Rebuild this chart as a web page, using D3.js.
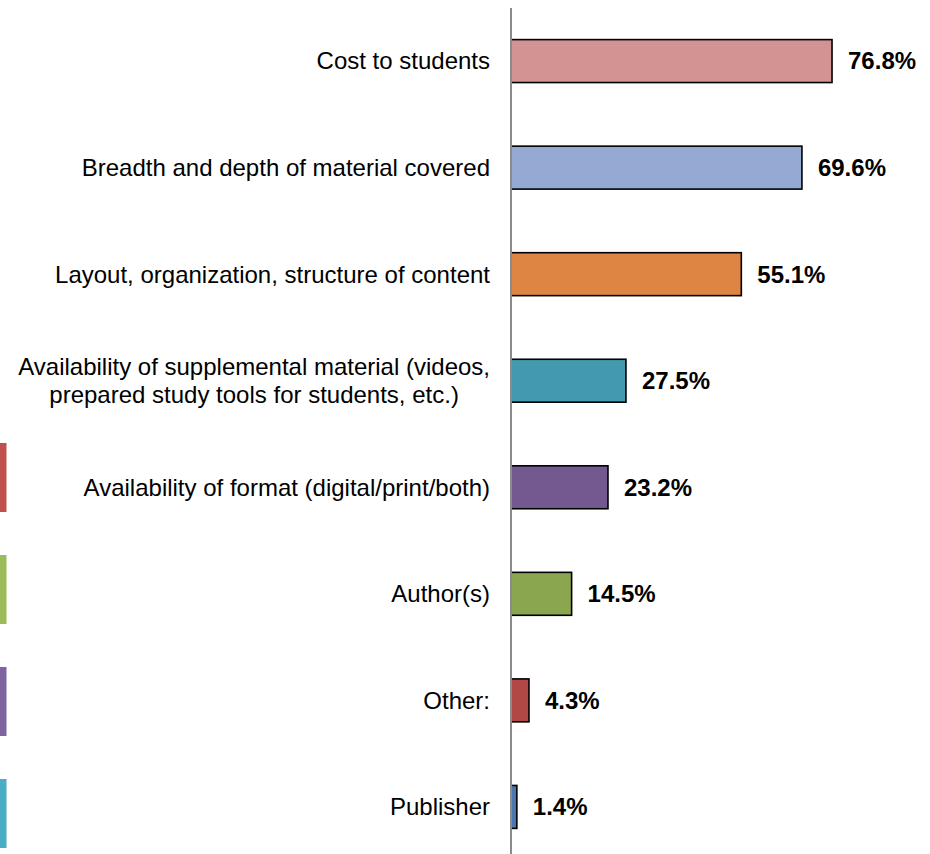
<!DOCTYPE html>
<html>
<head>
<meta charset="utf-8">
<script src="https://cdn.jsdelivr.net/npm/d3@7"></script>
<style>
  html, body { margin: 0; padding: 0; background: #fff; }
  svg { display: block; }
  text { font-family: "Liberation Sans", Arial, sans-serif; fill: #000; }
</style>
</head>
<body>
<svg id="chart" width="930" height="854"></svg>
<script>
// Factors considered when choosing course material (% of respondents)
const categories = [
  ["Cost to students"],
  ["Breadth and depth of material covered"],
  ["Layout, organization, structure of content"],
  ["Availability of supplemental material (videos,", "prepared study tools for students, etc.)"],
  ["Availability of format (digital/print/both)"],
  ["Author(s)"],
  ["Other:"],
  ["Publisher"]
];
const values = [76.8, 69.6, 55.1, 27.5, 23.2, 14.5, 4.3, 1.4];
const valueLabels = ["76.8%", "69.6%", "55.1%", "27.5%", "23.2%", "14.5%", "4.3%", "1.4%"];
const barColors = ["#D39392", "#95AAD3", "#DE8543", "#4399B0", "#73598F", "#8AA64E", "#B24845", "#4A77B0"];
// Edge swatches of a neighbouring legend, cut off at the left margin
const edgeSwatchColors = ["#C0504D", "#9BBB59", "#8064A2", "#4BACC6"];

const svg = d3.select("#chart");
const axisX = 511;
const labelFont = 24;
const valueFont = 24;

const x = d3.scaleLinear().domain([0, 100]).range([axisX, axisX + 418]);
const y = d3.scaleBand()
  .domain(d3.range(categories.length))
  .range([-24, 892])
  .paddingInner(0.597)
  .paddingOuter(0.597);

// Edge swatches
const ys = d3.scaleBand()
  .domain(d3.range(edgeSwatchColors.length))
  .range([443, 848])
  .paddingInner(0.384)
  .paddingOuter(0);
const sw = svg.append("g");
sw.selectAll("rect.main").data(edgeSwatchColors).join("rect")
  .attr("class", "main")
  .attr("x", 0).attr("width", 6)
  .attr("y", (d, i) => ys(i)).attr("height", ys.bandwidth())
  .attr("fill", d => d);
sw.selectAll("rect.edge").data(edgeSwatchColors).join("rect")
  .attr("class", "edge")
  .attr("x", 6).attr("width", 1)
  .attr("y", (d, i) => ys(i)).attr("height", ys.bandwidth())
  .attr("fill", d => d).attr("opacity", 0.5);

// Bars
svg.append("g").selectAll("rect").data(values).join("rect")
  .attr("x", x(0))
  .attr("y", (d, i) => y(i))
  .attr("width", d => x(d) - x(0))
  .attr("height", y.bandwidth())
  .attr("fill", (d, i) => barColors[i])
  .attr("stroke", "#000")
  .attr("stroke-width", 1.6);

// Vertical category axis line
svg.append("line")
  .attr("x1", axisX).attr("x2", axisX)
  .attr("y1", 8).attr("y2", 854)
  .attr("stroke", "#8a8a8a")
  .attr("stroke-width", 2);

// Value labels
svg.append("g").selectAll("text").data(values).join("text")
  .attr("x", d => x(d) + 16)
  .attr("y", (d, i) => y(i) + y.bandwidth() / 2)
  .attr("dy", "0.35em")
  .attr("font-size", valueFont)
  .attr("font-weight", "bold")
  .text((d, i) => valueLabels[i]);

// Category labels: single lines right-aligned, wrapped labels centred as a block
const labelRight = 490;
const lineGap = 28;
const lab = svg.append("g");
categories.forEach((lines, i) => {
  const cy = y(i) + y.bandwidth() / 2;
  const t = lab.append("text")
    .attr("font-size", labelFont)
    .attr("text-anchor", lines.length > 1 ? "middle" : "end");
  const tsp = t.selectAll("tspan").data(lines).join("tspan")
    .attr("x", labelRight)
    .attr("y", (d, k) => cy + (k - (lines.length - 1) / 2) * lineGap)
    .attr("dy", "0.35em")
    .text(d => d);
  if (lines.length > 1) {
    let maxW = 0;
    tsp.each(function () { maxW = Math.max(maxW, this.getComputedTextLength()); });
    tsp.attr("x", labelRight - maxW / 2);
  }
});
</script>
</body>
</html>
